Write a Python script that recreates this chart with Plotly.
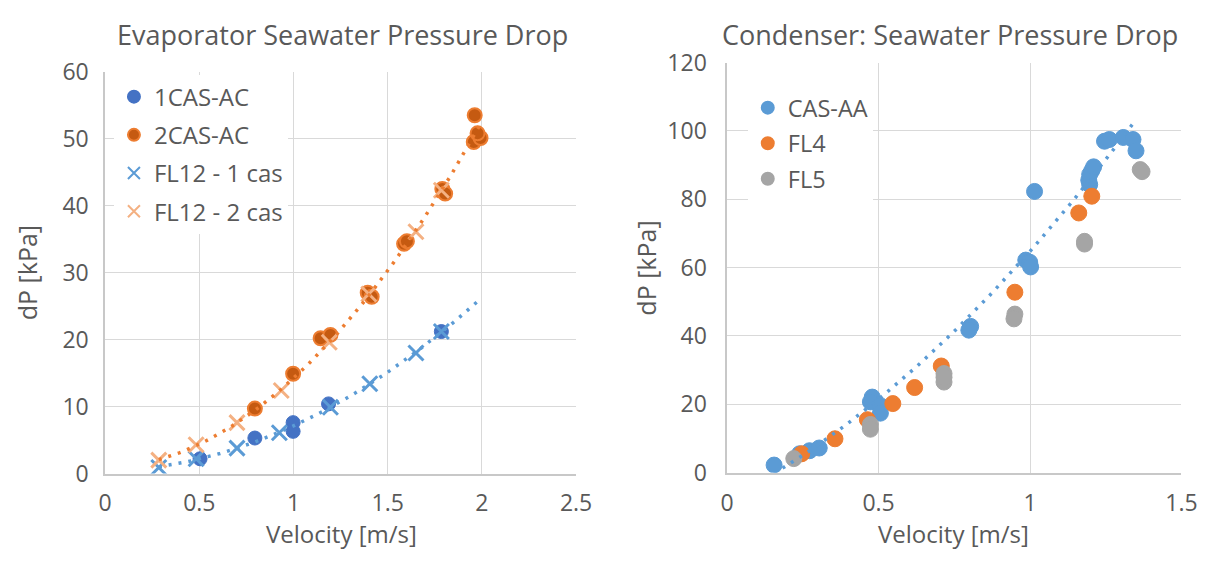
import numpy as np
import plotly.graph_objects as go

# ---------------- Left chart: Evaporator ----------------
cas1_x = [0.504, 0.795, 0.998, 0.998, 1.186, 1.785]
cas1_y = [2.2, 5.3, 7.6, 6.3, 10.4, 21.2]

cas2_x = [0.795, 0.998, 1.144, 1.196, 1.394, 1.415, 1.587, 1.602, 1.790, 1.805, 1.957, 1.993, 1.977, 1.962]
cas2_y = [9.7, 14.9, 20.2, 20.7, 27.0, 26.4, 34.3, 34.7, 42.5, 41.8, 49.5, 50.1, 50.8, 53.5]

fl12_1_x = [0.285, 0.483, 0.700, 0.925, 1.196, 1.405, 1.650, 1.785]
fl12_1_y = [0.9, 2.2, 3.8, 6.1, 9.9, 13.4, 18.0, 21.2]

fl12_2_x = [0.285, 0.483, 0.700, 0.935, 1.190, 1.400, 1.650, 1.785]
fl12_2_y = [2.0, 4.3, 7.6, 12.4, 19.6, 26.8, 36.1, 42.3]

# ---------------- Right chart: Condenser ----------------
casaa_x = [0.155, 0.239, 0.272, 0.304, 0.479, 0.473, 0.506, 0.506, 0.804, 0.798,
           0.986, 0.999, 1.002, 1.015, 1.197, 1.194, 1.197, 1.204, 1.210, 1.246,
           1.262, 1.308, 1.340, 1.350]
casaa_y = [2.2, 5.5, 6.4, 7.2, 22.1, 20.7, 19.6, 17.4, 42.8, 41.7,
           62.2, 61.6, 60.2, 82.3, 84.3, 85.6, 87.3, 88.4, 89.5, 97.0,
           97.5, 98.1, 97.5, 94.2]

fl4_x = [0.246, 0.356, 0.463, 0.547, 0.619, 0.707, 0.950, 1.161, 1.204]
fl4_y = [5.5, 9.9, 15.5, 20.2, 24.9, 31.2, 52.8, 76.0, 80.9]

fl5_x = [0.220, 0.473, 0.473, 0.716, 0.716, 0.716, 0.950, 0.947, 1.180, 1.180, 1.364, 1.370]
fl5_y = [4.1, 14.1, 12.7, 29.0, 26.5, 27.9, 46.4, 45.0, 67.7, 66.9, 88.7, 88.1]

TXT = "#595959"
FONT = "Open Sans"


def trend(x, y, x_end=None, deg=2, n=80):
    c = np.polyfit(x, y, deg)
    xs = np.linspace(min(x), x_end if x_end is not None else max(x), n)
    return xs, np.polyval(c, xs)


fig = go.Figure()

# left markers
fig.add_trace(go.Scatter(x=cas1_x, y=cas1_y, mode="markers", name="1CAS-AC",
                         xaxis="x", yaxis="y", legend="legend", legendgroup="g1",
                         marker=dict(symbol="circle", size=14, color="#4472C4",
                                     line=dict(color="#4472C4", width=1))))
fig.add_trace(go.Scatter(x=cas2_x, y=cas2_y, mode="markers", name="2CAS-AC",
                         xaxis="x", yaxis="y", legend="legend", legendgroup="g2",
                         marker=dict(symbol="circle", size=14, color="#C55A11",
                                     line=dict(color="#ED7D31", width=2))))
fig.add_trace(go.Scatter(x=fl12_1_x, y=fl12_1_y, mode="markers", name="FL12 - 1 cas",
                         xaxis="x", yaxis="y", legend="legend", legendgroup="g3",
                         marker=dict(symbol="x-thin", size=15, color="#5B9BD5",
                                     line=dict(color="#5B9BD5", width=3))))
fig.add_trace(go.Scatter(x=fl12_2_x, y=fl12_2_y, mode="markers", name="FL12 - 2 cas",
                         xaxis="x", yaxis="y", legend="legend", legendgroup="g4",
                         marker=dict(symbol="x-thin", size=15, color="#F4B183",
                                     line=dict(color="#F4B183", width=3))))

# left trendlines
tx, ty = trend(fl12_1_x, fl12_1_y, x_end=2.0)
fig.add_trace(go.Scatter(x=tx, y=ty, mode="lines", showlegend=False, hoverinfo="skip",
                         xaxis="x", yaxis="y",
                         line=dict(color="#5B9BD5", width=3.5, dash="3px,7px")))
tx, ty = trend(fl12_2_x, fl12_2_y, x_end=2.0)
fig.add_trace(go.Scatter(x=tx, y=ty, mode="lines", showlegend=False, hoverinfo="skip",
                         xaxis="x", yaxis="y",
                         line=dict(color="#ED7D31", width=3.5, dash="3px,7px")))

# right markers
fig.add_trace(go.Scatter(x=casaa_x, y=casaa_y, mode="markers", name="CAS-AA",
                         xaxis="x2", yaxis="y2", legend="legend2", legendgroup="h1",
                         marker=dict(symbol="circle", size=16, color="#5B9BD5",
                                     line=dict(color="#5B9BD5", width=1))))
fig.add_trace(go.Scatter(x=fl4_x, y=fl4_y, mode="markers", name="FL4",
                         xaxis="x2", yaxis="y2", legend="legend2", legendgroup="h2",
                         marker=dict(symbol="circle", size=16, color="#ED7D31",
                                     line=dict(color="#ED7D31", width=1))))
fig.add_trace(go.Scatter(x=fl5_x, y=fl5_y, mode="markers", name="FL5",
                         xaxis="x2", yaxis="y2", legend="legend2", legendgroup="h3",
                         marker=dict(symbol="circle", size=16, color="#A5A5A5",
                                     line=dict(color="#A5A5A5", width=1))))

tx, ty = trend(casaa_x, casaa_y)
fig.add_trace(go.Scatter(x=tx, y=ty, mode="lines", showlegend=False, hoverinfo="skip",
                         xaxis="x2", yaxis="y2",
                         line=dict(color="#5B9BD5", width=3.5, dash="3px,7px")))

W, H = 1220, 564


def px_x(p):
    return p / W


def px_y(p):
    return 1 - p / H


axis_common = dict(showgrid=True, gridcolor="#D9D9D9", gridwidth=1.3,
                   showline=True, linecolor="#C8C8C8", linewidth=1.5,
                   zeroline=False, ticks="",
                   tickfont=dict(family=FONT, size=23, color=TXT))

fig.update_layout(
    width=W, height=H, margin=dict(l=0, r=0, t=0, b=0),
    paper_bgcolor="white", plot_bgcolor="white",
    font=dict(family=FONT, color=TXT),
    xaxis=dict(domain=[px_x(100), px_x(580)], range=[0, 2.5], dtick=0.5,
               anchor="y", ticklabelstandoff=8, **axis_common),
    yaxis=dict(domain=[px_y(484), px_y(58)], range=[0, 60], dtick=10,
               anchor="x", ticklabelstandoff=10, **axis_common),
    xaxis2=dict(domain=[px_x(734), px_x(1197)], range=[0, 1.5], dtick=0.5,
                anchor="y2", ticklabelstandoff=9, **axis_common),
    yaxis2=dict(domain=[px_y(483), px_y(48.4)], range=[0, 120], dtick=20,
                anchor="x2", ticklabelstandoff=14, **axis_common),
    legend=dict(x=px_x(109), y=px_y(61), xanchor="left", yanchor="top",
                bgcolor="white", borderwidth=0, tracegroupgap=4,
                itemsizing="constant",
                font=dict(family=FONT, size=24, color=TXT)),
    legend2=dict(x=px_x(755), y=px_y(73), xanchor="left", yanchor="top",
                 bgcolor="white", borderwidth=0, tracegroupgap=2,
                 itemsizing="constant",
                 font=dict(family=FONT, size=23.5, color=TXT)),
    annotations=[
        dict(text="Evaporator Seawater Pressure Drop", x=px_x(342), y=px_y(19),
             xref="paper", yref="paper", showarrow=False, xanchor="center", yanchor="middle",
             font=dict(family=FONT, size=27, color=TXT)),
        dict(text="Condenser: Seawater Pressure Drop", x=px_x(961), y=px_y(19),
             xref="paper", yref="paper", showarrow=False, xanchor="center", yanchor="middle",
             font=dict(family=FONT, size=27, color=TXT)),
        dict(text="Velocity [m/s]", x=px_x(341), y=px_y(567),
             xref="paper", yref="paper", showarrow=False, xanchor="center", yanchor="bottom",
             font=dict(family=FONT, size=24, color=TXT)),
        dict(text="Velocity [m/s]", x=px_x(965), y=px_y(567),
             xref="paper", yref="paper", showarrow=False, xanchor="center", yanchor="bottom",
             font=dict(family=FONT, size=24, color=TXT)),
        dict(text="dP [kPa]", x=px_x(20), y=px_y(271), textangle=-90,
             xref="paper", yref="paper", showarrow=False, xanchor="center", yanchor="middle",
             font=dict(family=FONT, size=25, color=TXT)),
        dict(text="dP [kPa]", x=px_x(651), y=px_y(266), textangle=-90,
             xref="paper", yref="paper", showarrow=False, xanchor="center", yanchor="middle",
             font=dict(family=FONT, size=25, color=TXT)),
    ],
)

fig.write_html("out.html")
